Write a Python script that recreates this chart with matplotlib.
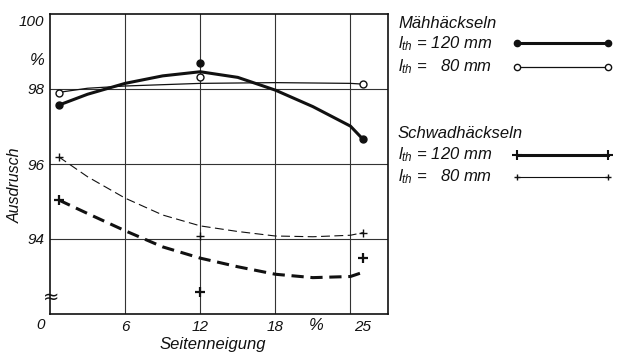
import matplotlib
matplotlib.use("Agg")
import matplotlib.pyplot as plt
from matplotlib.lines import Line2D

# --- DATA ---
# Mähhäckseln, l_th = 120 mm (filled circles, thick solid curve)
mh120_pts_x = [0.7, 12, 25]
mh120_pts_y = [97.57, 98.69, 96.66]
mh120_curve_x = [0.7, 3, 6, 9, 12, 15, 18, 21, 24, 25]
mh120_curve_y = [97.57, 97.86, 98.15, 98.35, 98.46, 98.31, 97.97, 97.53, 97.01, 96.66]

# Mähhäckseln, l_th = 80 mm (open circles, thin solid curve)
mh80_pts_x = [0.7, 12, 25]
mh80_pts_y = [97.89, 98.31, 98.13]
mh80_curve_x = [0.7, 3, 6, 12, 18, 24, 25]
mh80_curve_y = [97.91, 98.02, 98.08, 98.15, 98.17, 98.15, 98.13]

# Schwadhäckseln, l_th = 120 mm (+, thick dashed curve)
sh120_pts_x = [0.7, 12, 25]
sh120_pts_y = [95.04, 92.58, 93.5]
sh120_curve_x = [0.7, 3, 6, 9, 12, 15, 18, 21, 24, 24.8]
sh120_curve_y = [95.04, 94.68, 94.22, 93.79, 93.49, 93.26, 93.06, 92.97, 93.0, 93.09]

# Schwadhäckseln, l_th = 80 mm (+, thin dashed curve)
sh80_pts_x = [0.7, 12, 25]
sh80_pts_y = [96.19, 94.08, 94.17]
sh80_curve_x = [0.7, 3, 6, 9, 12, 15, 18, 21, 24, 25]
sh80_curve_y = [96.19, 95.66, 95.09, 94.64, 94.35, 94.2, 94.08, 94.06, 94.1, 94.17]

x_ticks = [6, 12, 18, 25]
y_ticks = [94, 96, 98]
x_grid = [6, 12, 18, 24]
y_grid = [94, 96, 98]

plt.rcParams['font.family'] = ['Liberation Sans', 'DejaVu Sans']
plt.rcParams['font.style'] = 'italic'
plt.rcParams['mathtext.fontset'] = 'custom'
plt.rcParams['mathtext.it'] = 'Liberation Sans:italic'
plt.rcParams['mathtext.rm'] = 'Liberation Sans'

ink = '#111111'

fig = plt.figure(figsize=(6.25, 3.53), dpi=100)
ax = fig.add_axes([50 / 625, 39 / 353, 338 / 625, 300 / 353])
ax.set_xlim(0, 27)
ax.set_ylim(92, 100)

# grid
for gx in x_grid:
    ax.axvline(gx, color='#333333', lw=0.8, zorder=1)
for gy in y_grid:
    ax.axhline(gy, color='#333333', lw=0.8, zorder=1)

# curves
ax.plot(mh120_curve_x, mh120_curve_y, color=ink, lw=2.2, solid_capstyle='round')
ax.plot(mh80_curve_x, mh80_curve_y, color=ink, lw=0.9)
ax.plot(sh120_curve_x, sh120_curve_y, color=ink, lw=2.2, dashes=(4, 2.2))
ax.plot(sh80_curve_x, sh80_curve_y, color=ink, lw=0.8, dashes=(8, 4))

# measured points
ax.plot(mh120_pts_x, mh120_pts_y, 'o', color=ink, ms=5, zorder=5)
ax.plot(mh80_pts_x, mh80_pts_y, 'o', mfc='white', mec=ink, mew=1.0, ms=5, zorder=5)
ax.plot(sh120_pts_x, sh120_pts_y, '+', color=ink, ms=7, mew=1.6, zorder=5)
ax.plot(sh80_pts_x, sh80_pts_y, '+', color=ink, ms=6, mew=1.0, zorder=5)

for s in ax.spines.values():
    s.set_linewidth(1.2)
    s.set_color(ink)

ax.set_xticks(x_ticks)
ax.set_xticklabels([str(v) for v in x_ticks])
ax.set_yticks(y_ticks)
ax.set_yticklabels([str(v) for v in y_ticks])
ax.tick_params(axis='both', length=0, labelsize=11, colors=ink)
ax.tick_params(axis='x', pad=4)
ax.tick_params(axis='y', pad=4)
ax.set_xticks([25], minor=True)
ax.tick_params(axis='x', which='minor', direction='in', length=5, width=1, colors=ink)

# "100" sits a little below the top edge in the original
ax.text(-0.45, 99.8, '100', ha='right', va='center', fontsize=11, color=ink, clip_on=False)
ax.text(-0.72, 91.7, '0', ha='center', va='center', fontsize=11, color=ink, clip_on=False)
ax.text(21.3, 91.7, '%', ha='center', va='center', fontsize=12, color=ink, clip_on=False)
ax.text(-0.45, 98.75, '%', ha='right', va='center', fontsize=12, color=ink, clip_on=False)
# axis break sign on the y axis
ax.text(0.1, 92.45, '≈', ha='center', va='center', fontsize=14, color=ink, clip_on=False,
        family='DejaVu Sans', style='normal')

fig.text(213 / 625, 1 - 344 / 353, 'Seitenneigung', ha='center', va='center',
         fontsize=12, color=ink)
fig.text(15 / 625, 1 - 185 / 353, 'Ausdrusch', ha='center', va='center',
         rotation=90, fontsize=11.5, color=ink)

# legend drawn on the right
fs = 12
fig.text(398 / 625, 1 - 23 / 353, 'Mähhäckseln', fontsize=fs, va='center', color=ink)
fig.text(398 / 625, 1 - 44 / 353, r'$l_{th}$ = 120 mm', fontsize=fs, va='center', color=ink)
fig.text(398 / 625, 1 - 67 / 353, r'$l_{th}$ =   80 mm', fontsize=fs, va='center', color=ink)
fig.text(398 / 625, 1 - 133 / 353, 'Schwadhäckseln', fontsize=fs, va='center', color=ink)
fig.text(398 / 625, 1 - 155 / 353, r'$l_{th}$ = 120 mm', fontsize=fs, va='center', color=ink)
fig.text(398 / 625, 1 - 177 / 353, r'$l_{th}$ =   80 mm', fontsize=fs, va='center', color=ink)

lx = [517 / 625, 608 / 625]
fig.add_artist(Line2D(lx, [1 - 43 / 353] * 2, color=ink, lw=2.2, marker='o', ms=4.5))
fig.add_artist(Line2D(lx, [1 - 67 / 353] * 2, color=ink, lw=0.9, marker='o', ms=4.5,
                      mfc='white', mec=ink))
fig.add_artist(Line2D(lx, [1 - 155 / 353] * 2, color=ink, lw=2.2, marker='+', ms=7, mew=1.5))
fig.add_artist(Line2D(lx, [1 - 177 / 353] * 2, color=ink, lw=0.8, marker='+', ms=5, mew=1.0))

fig.savefig('out.png', dpi=100)
